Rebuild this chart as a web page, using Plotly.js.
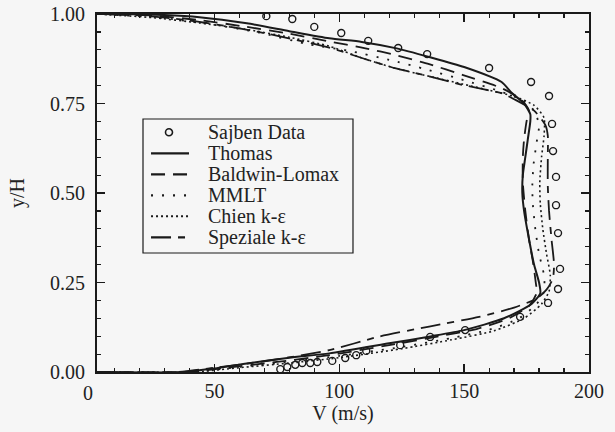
<!DOCTYPE html>
<html>
<head>
<meta charset="utf-8">
<script src="https://cdn.plot.ly/plotly-3.0.1.min.js"></script>
<style>
  html, body { margin: 0; padding: 0; background: #f6f6f6; }
  #chart { width: 615px; height: 432px; }
</style>
</head>
<body>
<div id="chart"></div>
<script>
// Velocity profiles across the channel: measured data and five turbulence models

const sajbenV = [76.4, 79.2, 82.4, 85.2, 88.4, 91.2, 97.2, 102.4, 106.8, 110.8, 124.4, 136.4, 150.4, 172.4, 183.6, 187.6, 188.4, 187.6, 186.8, 186.8, 185.6, 185.2, 184.0, 176.8, 160.0, 135.2, 123.6, 111.6, 100.8, 90.0, 81.2, 70.8];
const sajbenY = [0.008, 0.014, 0.020, 0.025, 0.025, 0.028, 0.031, 0.039, 0.047, 0.059, 0.075, 0.098, 0.117, 0.154, 0.193, 0.232, 0.288, 0.388, 0.466, 0.545, 0.617, 0.693, 0.771, 0.810, 0.849, 0.888, 0.905, 0.925, 0.947, 0.964, 0.986, 0.994];

const thomasV = [3, 38, 50, 63, 80, 96, 120, 137, 150, 166, 177, 180.5, 180, 178, 176, 174, 173.3, 173.5, 174.5, 175.5, 176.5, 176.5, 174, 169, 165, 150, 136, 123, 109, 96, 80, 63, 44, 30, 12, 3];
const thomasY = [0, 0, 0.01, 0.024, 0.04, 0.052, 0.08, 0.10, 0.117, 0.15, 0.19, 0.22, 0.25, 0.30, 0.37, 0.45, 0.50, 0.55, 0.60, 0.65, 0.70, 0.72, 0.75, 0.78, 0.81, 0.852, 0.88, 0.904, 0.922, 0.932, 0.952, 0.974, 0.991, 0.997, 1, 1];

const baldwinV = [3, 40, 55, 75, 96, 120, 140, 155, 168, 176, 179, 178.5, 177.5, 176, 174.5, 173.5, 173.5, 174, 175, 176, 173, 165.3, 149.3, 136, 122.7, 110, 96, 80, 62, 45, 25, 3];
const baldwinY = [0, 0, 0.012, 0.028, 0.047, 0.075, 0.1, 0.12, 0.15, 0.185, 0.22, 0.26, 0.31, 0.37, 0.45, 0.53, 0.60, 0.65, 0.70, 0.73, 0.76, 0.792, 0.83, 0.86, 0.885, 0.905, 0.923, 0.945, 0.965, 0.982, 0.996, 1];

const mmltV = [3, 40, 60, 80, 100, 125, 145, 160, 172, 179, 182, 182, 180, 178.5, 177.5, 177.3, 177.8, 179, 180, 178, 173, 164, 150, 135, 120, 104, 88, 68, 48, 28, 3];
const mmltY = [0, 0, 0.014, 0.028, 0.045, 0.07, 0.095, 0.118, 0.15, 0.19, 0.225, 0.27, 0.33, 0.40, 0.47, 0.52, 0.58, 0.64, 0.69, 0.73, 0.76, 0.785, 0.815, 0.845, 0.872, 0.897, 0.915, 0.948, 0.972, 0.99, 1];

const chienV = [3, 42, 60, 80, 100, 125, 145, 162, 174, 181, 184, 184.5, 183, 181.5, 180.5, 180.3, 181, 182, 182, 178, 170, 160, 149, 136, 122.7, 110, 96, 80, 62, 44, 25, 3];
const chienY = [0, 0, 0.012, 0.025, 0.04, 0.065, 0.09, 0.115, 0.15, 0.19, 0.225, 0.27, 0.33, 0.40, 0.47, 0.53, 0.60, 0.66, 0.71, 0.745, 0.77, 0.787, 0.805, 0.826, 0.848, 0.875, 0.91, 0.935, 0.958, 0.975, 0.99, 1];

const spezialeV = [3, 35, 50, 70, 96, 116, 136, 156, 170, 179, 183, 185.5, 186, 185, 184, 183.5, 183.5, 183.5, 182.5, 178, 170, 165.3, 149.3, 136, 122.7, 110, 96, 78, 60, 40, 20, 3];
const spezialeY = [0, 0, 0.012, 0.03, 0.061, 0.099, 0.127, 0.154, 0.18, 0.205, 0.23, 0.26, 0.30, 0.37, 0.45, 0.52, 0.60, 0.66, 0.69, 0.73, 0.762, 0.778, 0.802, 0.826, 0.848, 0.875, 0.906, 0.935, 0.96, 0.982, 0.996, 1];

const seriesNames = ['Sajben Data', 'Thomas', 'Baldwin-Lomax', 'MMLT', 'Chien k-\u03b5', 'Speziale k-\u03b5'];
const xTickVals = [50, 100, 150, 200];
const yTickVals = [0, 0.25, 0.5, 0.75, 1];

const INK = '#1a1a1a';
const TEXT = '#222';
const FONT = '"Liberation Serif", "DejaVu Serif", serif';
const X_RANGE = [3, 200];

const models = [
  { name: seriesNames[1], x: thomasV, y: thomasY, dash: 'solid', width: 2 },
  { name: seriesNames[2], x: baldwinV, y: baldwinY, dash: '14px,8px', width: 1.8 },
  { name: seriesNames[3], x: mmltV, y: mmltY, dash: '2px,9px', width: 1.8 },
  { name: seriesNames[4], x: chienV, y: chienY, dash: '2px,3px', width: 1.6 },
  { name: seriesNames[5], x: spezialeV, y: spezialeY, dash: '20px,7px,7px,7px', width: 1.8 }
];

const traces = models.map(m => ({
  type: 'scatter', mode: 'lines', name: m.name,
  x: m.x, y: m.y,
  line: { color: INK, width: m.width, dash: m.dash, shape: 'spline', smoothing: 0.6 },
  showlegend: false, hoverinfo: 'skip'
}));
traces.unshift({
  type: 'scatter', mode: 'markers', name: seriesNames[0],
  x: sajbenV, y: sajbenY,
  marker: { symbol: 'circle-open', size: 7, color: INK, line: { width: 1.4, color: INK } },
  showlegend: false, hoverinfo: 'skip'
});

// hand-built legend box (compact row spacing)
const box = { x0: 0.0935, x1: 0.5203, y0: 0.3324, y1: 0.7067 };
const rowY = [0.6695, 0.6108, 0.5522, 0.4936, 0.4350, 0.3763];
const sampleX0 = 0.1098, sampleX1 = 0.187, textX = 0.2236;

const shapes = [{
  type: 'rect', xref: 'paper', yref: 'paper',
  x0: box.x0, x1: box.x1, y0: box.y0, y1: box.y1,
  line: { color: INK, width: 1.2 }, fillcolor: 'rgba(0,0,0,0)'
}];
const annotations = [];
seriesNames.forEach((name, i) => {
  annotations.push({
    xref: 'paper', yref: 'paper', x: textX, y: rowY[i],
    xanchor: 'left', yanchor: 'middle', showarrow: false, borderpad: 0,
    text: name, font: { family: FONT, size: 20, color: TEXT }
  });
});
shapes.push({
  type: 'circle', xref: 'paper', yref: 'paper',
  xsizemode: 'pixel', ysizemode: 'pixel',
  xanchor: (169 - 97) / 492, yanchor: rowY[0],
  x0: -3.5, x1: 3.5, y0: -3.5, y1: 3.5,
  line: { color: INK, width: 1.6 }
});
models.forEach((m, i) => {
  shapes.push({
    type: 'line', xref: 'paper', yref: 'paper',
    x0: sampleX0, x1: sampleX1, y0: rowY[i + 1], y1: rowY[i + 1],
    line: { color: INK, width: m.width + 0.4, dash: m.dash }
  });
});

// the "0" label sits left of the plotted range
annotations.push({
  xref: 'paper', yref: 'paper',
  x: (0 - X_RANGE[0]) / (X_RANGE[1] - X_RANGE[0]) - 0.003, y: 0,
  xanchor: 'center', yanchor: 'top', yshift: -8, showarrow: false,
  text: '0', font: { family: FONT, size: 20, color: TEXT }
});

const axisCommon = {
  showline: true, linecolor: INK, linewidth: 2, mirror: 'ticks',
  ticks: 'inside', ticklen: 8, tickwidth: 1.5, tickcolor: INK,
  showgrid: false, zeroline: false,
  tickfont: { family: FONT, size: 20, color: TEXT }
};

const layout = {
  width: 615, height: 432,
  margin: { l: 97, r: 26, t: 14, b: 60 },
  paper_bgcolor: '#f6f6f6', plot_bgcolor: '#f6f6f6',
  font: { family: FONT },
  showlegend: false,
  xaxis: Object.assign({}, axisCommon, {
    range: X_RANGE, tickmode: 'array', tickvals: xTickVals,
    minor: { dtick: 10, tick0: 0, ticks: 'inside', ticklen: 4, tickwidth: 1.2, tickcolor: INK, showgrid: false },
    title: { text: 'V (m/s)', font: { family: FONT, size: 20, color: TEXT }, standoff: 4 }
  }),
  yaxis: Object.assign({}, axisCommon, {
    range: [0, 1], tickmode: 'array', tickvals: yTickVals, tickformat: '.2f',
    ticklabelstandoff: 6,
    minor: { dtick: 0.05, tick0: 0, ticks: 'inside', ticklen: 4, tickwidth: 1.2, tickcolor: INK, showgrid: false },
    title: { text: 'y/H', font: { family: FONT, size: 20, color: TEXT }, standoff: 20 }
  }),
  shapes: shapes,
  annotations: annotations
};

Plotly.newPlot('chart', traces, layout, { staticPlot: true, displayModeBar: false });
</script>
</body>
</html>
